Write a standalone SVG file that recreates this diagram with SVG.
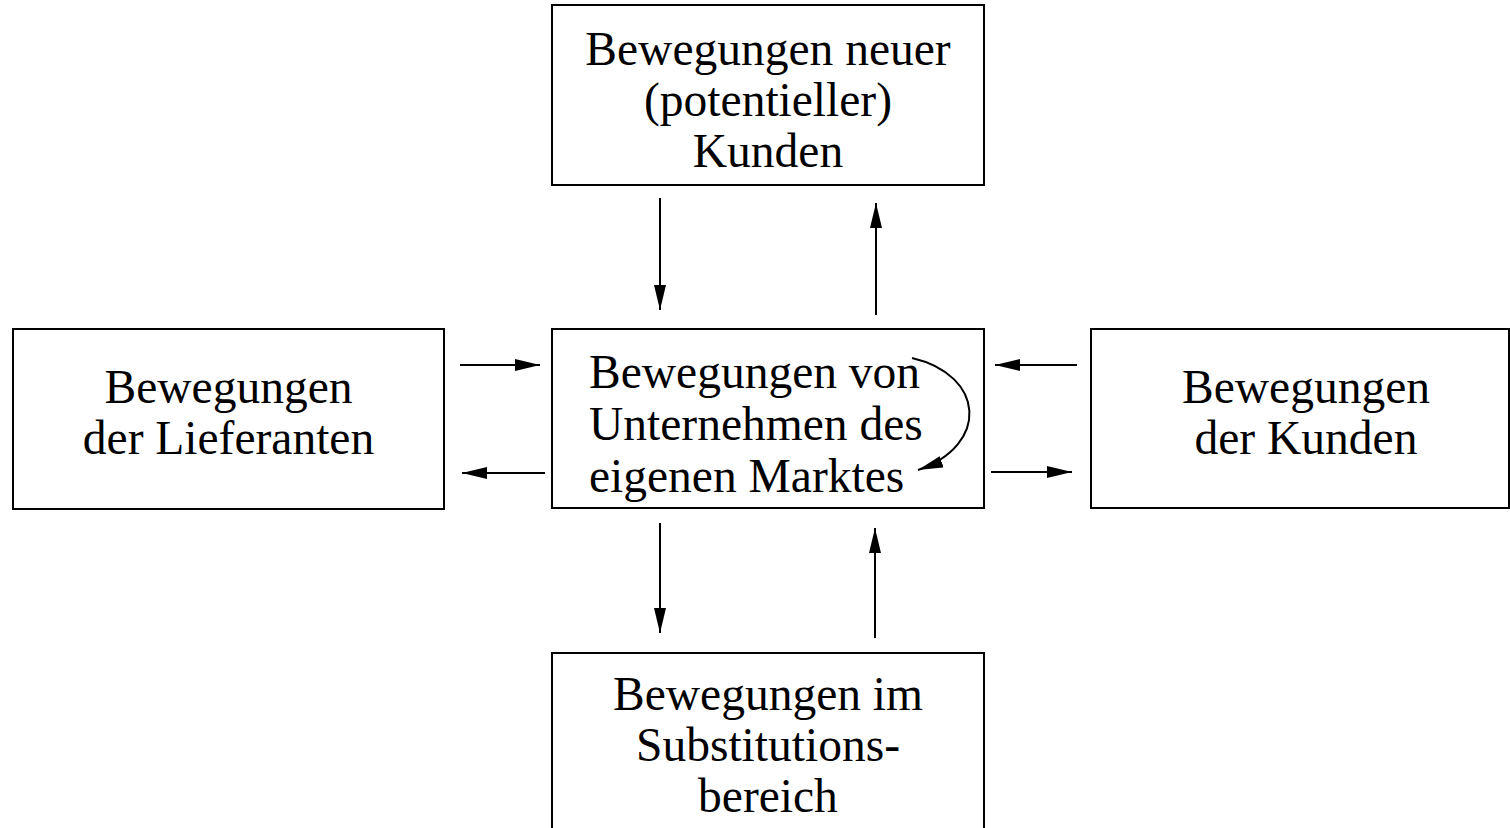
<svg xmlns="http://www.w3.org/2000/svg" width="1510" height="828" viewBox="0 0 1510 828">
<style>
.box{fill:#fff;stroke:#000;stroke-width:2}
.t{font-family:"Liberation Serif","Times New Roman",serif;font-size:47.5px;fill:#000}
.c{text-anchor:middle}
.ln{fill:none;stroke:#000;stroke-width:2}
</style>
<defs>
<marker id="ah" markerUnits="userSpaceOnUse" markerWidth="26" markerHeight="14" refX="25" refY="6" orient="auto">
<path d="M0,0 L25,6 L0,12 z" fill="#000"/>
</marker>
</defs>
<rect width="1510" height="828" fill="#fff"/>
<g id="top">
<rect class="box" x="552" y="5" width="432" height="180"/>
<text class="t c" x="768" y="65">Bewegungen neuer</text>
<text class="t c" x="768" y="116">(potentieller)</text>
<text class="t c" x="768" y="167">Kunden</text>
</g>
<g id="center">
<rect class="box" x="552" y="329" width="432" height="179"/>
<text class="t" x="589" y="388">Bewegungen von</text>
<text class="t" x="589" y="440">Unternehmen des</text>
<text class="t" x="589" y="492">eigenen Marktes</text>
</g>
<g id="left">
<rect class="box" x="13" y="329" width="431" height="180"/>
<text class="t c" x="228.5" y="403">Bewegungen</text>
<text class="t c" x="228.5" y="454">der Lieferanten</text>
</g>
<g id="right">
<rect class="box" x="1091" y="329" width="418" height="179"/>
<text class="t c" x="1306" y="403">Bewegungen</text>
<text class="t c" x="1306" y="454">der Kunden</text>
</g>
<g id="bottom">
<rect class="box" x="552" y="653" width="432" height="190"/>
<text class="t c" x="768" y="710">Bewegungen im</text>
<text class="t c" x="768" y="761">Substitutions-</text>
<text class="t c" x="768" y="812">bereich</text>
</g>
<g id="connectors">
<line class="ln" x1="660" y1="198" x2="660" y2="310" marker-end="url(#ah)"/>
<line class="ln" x1="876" y1="315" x2="876" y2="203" marker-end="url(#ah)"/>
<line class="ln" x1="460" y1="365" x2="540" y2="365" marker-end="url(#ah)"/>
<line class="ln" x1="545" y1="473" x2="462" y2="473" marker-end="url(#ah)"/>
<line class="ln" x1="1077" y1="365" x2="995" y2="365" marker-end="url(#ah)"/>
<line class="ln" x1="991" y1="472" x2="1072" y2="472" marker-end="url(#ah)"/>
<line class="ln" x1="660" y1="523" x2="660" y2="633" marker-end="url(#ah)"/>
<line class="ln" x1="875" y1="638" x2="875" y2="528" marker-end="url(#ah)"/>
<path class="ln" d="M912,358 C985,375 990,445 918,470" marker-end="url(#ah)"/>
</g>
</svg>
